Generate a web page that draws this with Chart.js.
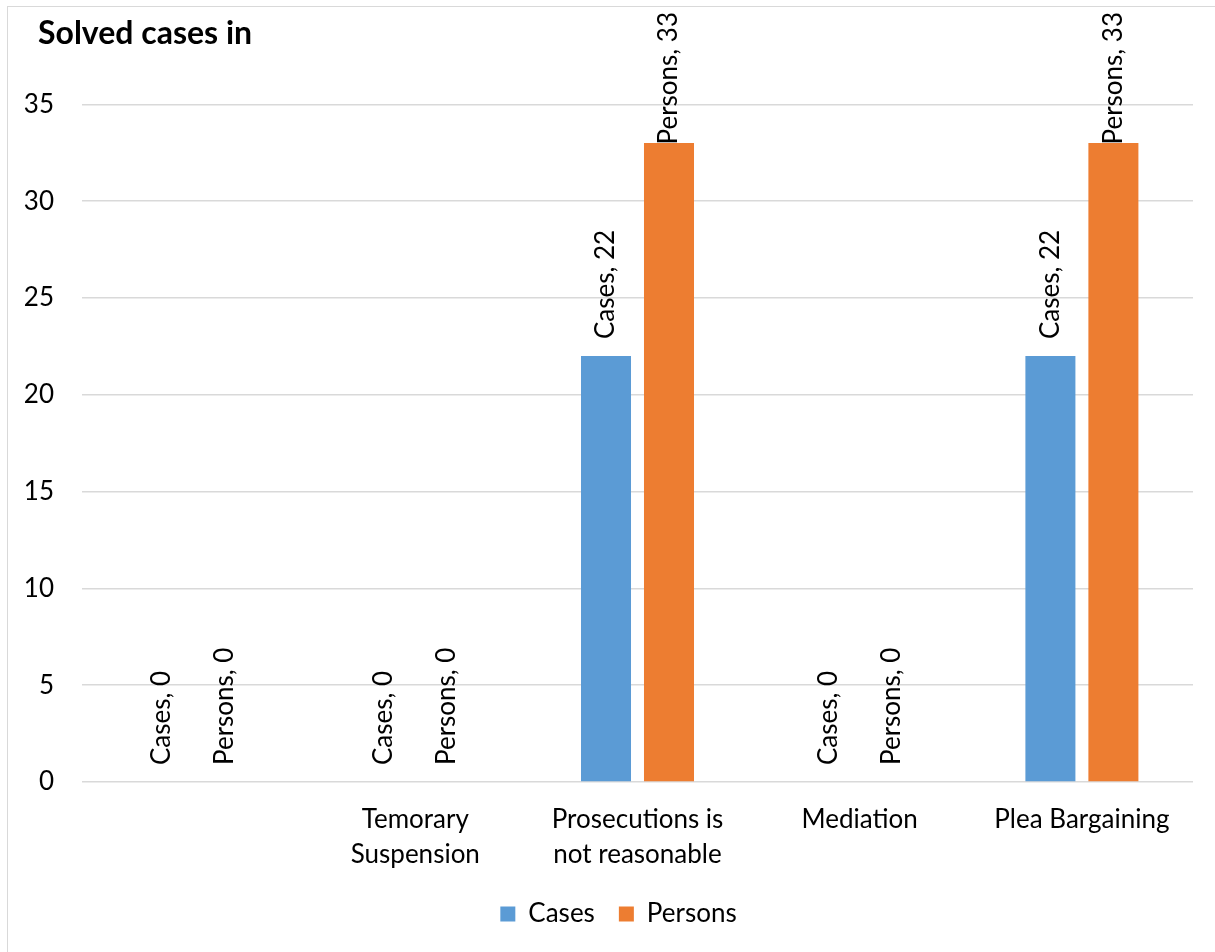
<!DOCTYPE html>
<html lang="en">
<head>
    <meta charset="UTF-8">
    <title>Solved cases</title>
    <script src="https://cdn.jsdelivr.net/npm/chart.js@4.4.0/dist/chart.umd.min.js"></script>
    <style>
        body { margin: 0; background: #fff; }
        #frame { position: absolute; left: 7px; top: 6px; width: 1300px; height: 1000px; border: 1px solid #d9d9d9; }
        #wrap { position: absolute; left: 0; top: 0; width: 1215px; height: 952px; }
    </style>
</head>
<body>
<div id="frame"></div>
<div id="wrap"><canvas id="myChart" width="1215" height="952"></canvas></div>
<script>
    // chart data
    const categories = ['', ['Temorary', 'Suspension'], ['Prosecutions is', 'not reasonable'], 'Mediation', 'Plea Bargaining'];
    const casesValues = [0, 0, 22, 0, 22];
    const personsValues = [0, 0, 33, 0, 33];
    const yTicks = [0, 5, 10, 15, 20, 25, 30, 35];

    const font = 'Lato, "Open Sans", sans-serif';

    // rotated "Series, value" labels above each bar
    const barLabels = {
        id: 'barLabels',
        afterLayout(chart) {
            // Excel-style title sits a bit in from the frame, legend a bit right of centre
            chart.titleBlock.left = 38;
            chart.legend.left += 22;
            chart.legend.right += 22;
        },
        afterDatasetsDraw(chart) {
            const ctx = chart.ctx;
            ctx.save();
            ctx.font = '26px ' + font;
            ctx.fillStyle = '#000';
            ctx.textBaseline = 'middle';
            ctx.textAlign = 'left';
            chart.data.datasets.forEach(function (ds, i) {
                chart.getDatasetMeta(i).data.forEach(function (bar, j) {
                    const text = ds.label + ', ' + ds.data[j];
                    const w = ctx.measureText(text).width;
                    let start = bar.y - 17;
                    if (start - w < 12) start = 12 + w;
                    ctx.save();
                    ctx.translate(bar.x, start);
                    ctx.rotate(-Math.PI / 2);
                    ctx.fillText(text, 0, 0);
                    ctx.restore();
                });
            });
            ctx.restore();
        }
    };

    const ctx = document.getElementById('myChart').getContext('2d');
    const chart = new Chart(ctx, {
        type: 'bar',
        data: {
            labels: categories,
            datasets: [{
                label: 'Cases',
                backgroundColor: '#5b9bd5',
                data: casesValues
            }, {
                label: 'Persons',
                backgroundColor: '#ed7d31',
                data: personsValues
            }]
        },
        options: {
            responsive: false,
            animation: false,
            layout: { padding: { left: 0, right: 22, top: 0, bottom: 15 } },
            datasets: {
                bar: { categoryPercentage: 0.567, barPercentage: 0.794 }
            },
            scales: {
                x: {
                    grid: { display: false },
                    border: { display: false },
                    ticks: {
                        color: '#000',
                        font: { family: font, size: 26, lineHeight: 1.35 },
                        padding: 12,
                        maxRotation: 0,
                        autoSkip: false
                    },
                    afterFit(scale) { scale.height = 95; }
                },
                y: {
                    min: 0,
                    max: 35,
                    afterBuildTicks(scale) { scale.ticks = yTicks.map(v => ({ value: v })); },
                    grid: { color: '#d9d9d9', lineWidth: 1.5, drawTicks: false },
                    border: { display: false },
                    ticks: {
                        color: '#000',
                        font: { family: font, size: 26 },
                        padding: 28
                    },
                    afterFit(scale) { scale.width = 82; }
                }
            },
            plugins: {
                title: {
                    display: true,
                    text: 'Solved cases in',
                    align: 'start',
                    color: '#000',
                    font: { family: font, size: 32, weight: 'bold', lineHeight: 1.2 },
                    padding: { top: 14, bottom: 52 }
                },
                legend: {
                    position: 'bottom',
                    labels: {
                        color: '#000',
                        font: { family: font, size: 26 },
                        boxWidth: 15,
                        boxHeight: 15,
                        padding: 24
                    }
                },
                tooltip: { enabled: false }
            }
        },
        plugins: [barLabels]
    });
</script>
</body>
</html>
